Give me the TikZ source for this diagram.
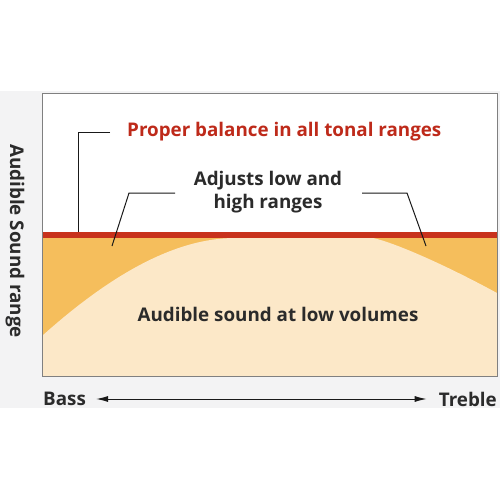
\documentclass[tikz,border=0pt]{standalone}
\usepackage{fontspec}
\setmainfont{Open Sans}
\usetikzlibrary{arrows.meta}
\definecolor{bandred}{HTML}{C8321C}
\definecolor{labelred}{HTML}{BE2A1A}
\definecolor{lowgold}{HTML}{F5BE5C}
\definecolor{creamfill}{HTML}{FCE8C8}
\definecolor{darktext}{HTML}{2B2B2B}
\definecolor{panelgray}{HTML}{F3F3F4}

\begin{document}
\begin{tikzpicture}[x=1pt,y=-1pt,
    txt_node/.style={font=\fontsize{18.8}{23}\selectfont\bfseries, text=darktext, inner sep=0pt},
    red_node/.style={txt_node, text=labelred},
    leader/.style={draw=black!90, line width=1pt}]
    \useasboundingbox (0,0) rectangle (500,500);
    \fill[panelgray] (0,91) rectangle (500,408);
    \fill[white] (42,93) rectangle (497,376);
    \fill[lowgold] (42,238) rectangle (497,376);
    \fill[creamfill] (42,336) .. controls (110,275) and (175,238) .. (235,238)
        -- (373,238) .. controls (392,242) and (440,262) .. (497,293)
        -- (497,376) -- (42,376) -- cycle;
    \fill[bandred] (42,232) rectangle (497,238);
    \draw[black!50, line width=0.9pt] (42,93) rectangle (497,376);

    \coordinate (band_l) at (78,232);
    \coordinate (low_l) at (112,246);
    \coordinate (low_r) at (426,246);

    \node[red_node, anchor=west] (proper) at (127,132) {Proper balance in all tonal ranges};
    \node[txt_node, align=center] (adjust) at (268,192) {Adjusts low and\\high ranges};
    \node[txt_node] (quiet) at (278,314) {Audible sound at low volumes};
    \node[txt_node, anchor=west] (bass) at (43,399) {Bass};
    \node[txt_node, anchor=east] (treble) at (497,399) {Treble};
    \node[txt_node, rotate=-90] (yaxis) at (15,241) {Audible Sound range};

    \draw[leader] (110,132) -| (band_l);
    \draw[leader] (175,193) -- (129,193) -- (low_l);
    \draw[leader] (362,193) -- (407,193) -- (low_r);
    \draw[leader, {Latex[length=12pt,width=6pt]}-{Latex[length=12pt,width=6pt]}]
        ([xshift=10pt]bass.east) -- ([xshift=-12pt]treble.west);
\end{tikzpicture}
\end{document}
